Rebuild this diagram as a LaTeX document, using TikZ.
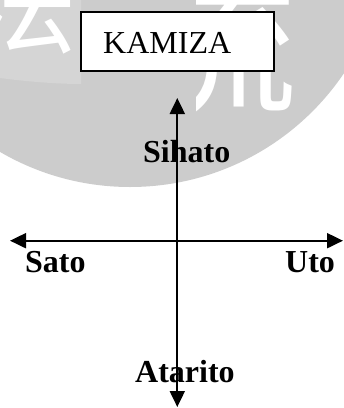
\documentclass[tikz,border=0pt]{standalone}
\usepackage{fontspec}
\setmainfont{Liberation Serif}
\newfontfamily\cjk{Noto Sans CJK SC}
\usetikzlibrary{arrows.meta}
\definecolor{bgray}{RGB}{204,204,204}
\definecolor{lgray}{RGB}{213,213,213}
\tikzset{
  axis/.style={line width=2pt, {Triangle[width=15pt,length=16pt]}-{Triangle[width=15pt,length=16pt]}},
  lbl/.style={anchor=base west, inner sep=0pt, font=\fontsize{32}{38}\selectfont\bfseries},
  boxed/.style={draw, line width=1.5pt, fill=white, minimum width=193pt, minimum height=59pt, inner sep=0pt},
  wm/.style={text=white, inner sep=0pt}
}
\begin{document}
\begin{tikzpicture}[x=1pt,y=-1pt]
\useasboundingbox (0,0) rectangle (344,408);
\begin{scope}
  \clip (0,0) rectangle (344,408);
  \fill[bgray] (130,-71) circle (258pt);
  \fill[lgray] (0,0) -- (0,78) .. controls (30,82) and (60,84) .. (81,84) -- (81,0) -- cycle;
  \begin{scope}
    \clip (0,0) rectangle (81,160);
    \node[wm, anchor=base, font=\fontsize{110}{110}\selectfont\cjk] (wm1) at (22,45) {法};
  \end{scope}
  \begin{scope}
    \clip (196,0) rectangle (344,160);
    \node[wm, anchor=base east, font=\fontsize{150}{150}\selectfont\cjk] (wm2) at (298,101) {流};
  \end{scope}
\end{scope}

\node[boxed] (kamiza) at (177.5,41.5) {};
\node[anchor=base west, inner sep=0pt, font=\fontsize{32}{38}\selectfont] (kamizatext) at (103,53.5) {KAMIZA};

\node[lbl] (sihato) at (143,162) {Sihato};
\node[lbl] (sato) at (25,272) {Sato};
\node[lbl] (uto) at (285,272) {Uto};
\node[lbl] (atarito) at (135,382.5) {Atarito};

\coordinate (top) at (177.3,98);
\coordinate (bottom) at (177.3,407);
\coordinate (left) at (10,240.7);
\coordinate (right) at (343,240.7);
\draw[axis] (bottom) -- (top);
\draw[axis] (left) -- (right);
\end{tikzpicture}
\end{document}
